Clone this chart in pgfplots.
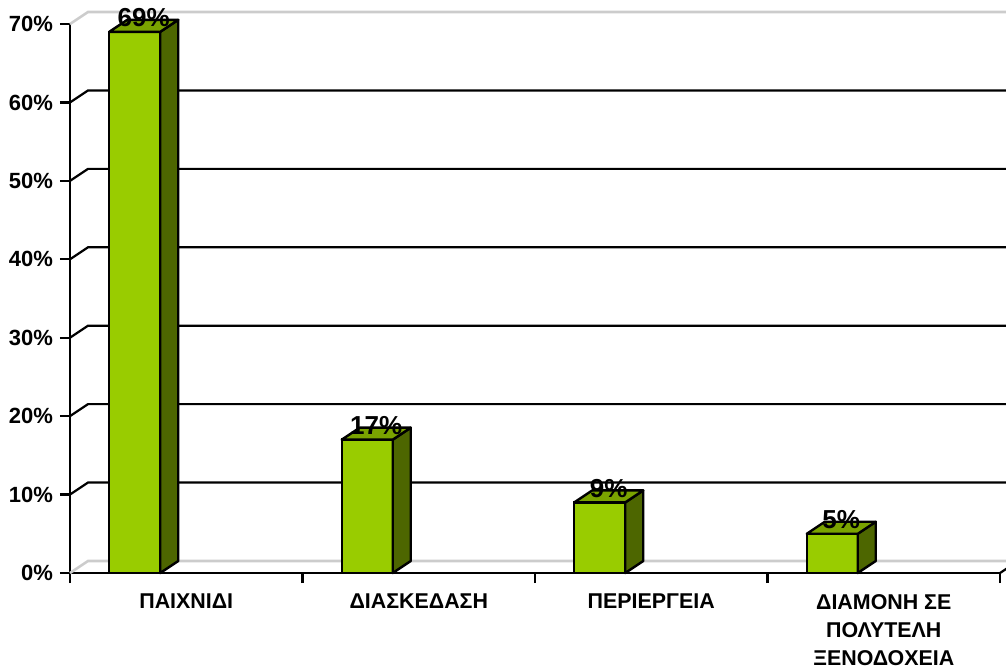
\documentclass[border=0pt]{standalone}
\usepackage{pgfplots}
\pgfplotsset{compat=1.18}
\usepackage{fontspec}
\setmainfont{Liberation Sans}
\definecolor{frontgreen}{HTML}{99CC00}
\definecolor{sidegreen}{HTML}{4D6600}
\definecolor{topgreen}{HTML}{7AA300}
\pgfdeclareplotmark{box3d}{%
  \pgfmathsetlengthmacro{\hh}{\rawy*3.92143pt}%
  \filldraw[fill=sidegreen, draw=black, line width=1.2pt, line join=round] (-13pt,-\hh) -- (-13pt,0pt) -- (-4pt,6pt) -- (-4pt,{6pt-\hh}) -- cycle;
  \filldraw[fill=topgreen, draw=black, line width=1.2pt, line join=round] (-38.5pt,0pt) -- (-13pt,0pt) -- (-4pt,6pt) -- (-29.5pt,6pt) -- cycle;
}
\begin{document}
\begin{tikzpicture}
\begin{axis}[
  at={(0pt,0pt)}, anchor=south west,
  x=116.25pt, y=3.92143pt,
  xmin=-0.5, xmax=3.5, ymin=0, ymax=70,
  axis lines*=left,
  axis line style={line width=1.1pt, black},
  clip=false,
  tick align=outside,
  major tick length=5pt,
  tick style={line width=1.1pt, black},
  ytick={0,10,...,70},
  yticklabel={\pgfmathprintnumber{\tick}\%},
  /pgf/number format/assume math mode=true,
  xtick={-0.5,0.5,1.5,2.5,3.5},
  x tick label as interval,
  xticklabels={{ΠΑΙΧΝΙΔΙ},{ΔΙΑΣΚΕΔΑΣΗ},{ΠΕΡΙΕΡΓΕΙΑ},{ΔΙΑΜΟΝΗ ΣΕ\\ΠΟΛΥΤΕΛΗ\\ΞΕΝΟΔΟΧΕΙΑ}},
  yticklabel style={font=\fontsize{11}{13}\selectfont\bfseries},
  xticklabel style={font=\fontsize{10.7}{14}\selectfont\bfseries, align=center, yshift=-2pt},
]
\pgfplotsinvokeforeach{10,20,30,40,50,60}{\draw[black,line width=1.1pt] (axis cs:-0.5,#1) -- ++(9pt,6pt) -- ++(462pt,0pt);}
\draw[gray!40, line width=1.3pt] (axis cs:-0.5,70) -- ++(9pt,6pt) -- ++(462pt,0pt);
\draw[gray!40, line width=1.3pt] (axis cs:-0.5,0) -- ++(9pt,6pt) -- ++(462pt,0pt);
\draw[black, line width=1.1pt] (axis cs:3.5,0) -- ++(9pt,6pt);
\addplot[ybar, bar width=25.5pt, bar shift=-25.75pt, fill=frontgreen, draw=black, line width=1.2pt] coordinates {(0,69) (1,17) (2,9) (3,5)};
\addplot[scatter, only marks, mark=box3d, visualization depends on={rawy \as \rawy},
  nodes near coords={\pgfmathprintnumber{\pgfplotspointmeta}\%},
  nodes near coords style={anchor=center, xshift=-21.25pt, yshift=7pt, font=\fontsize{13}{15}\selectfont\bfseries, text=black}]
  coordinates {(0,69) (1,17) (2,9) (3,5)};
\end{axis}
\pgfresetboundingbox
\useasboundingbox (-35pt,-47.5pt) rectangle (468pt,286.5pt);
\end{tikzpicture}
\end{document}
